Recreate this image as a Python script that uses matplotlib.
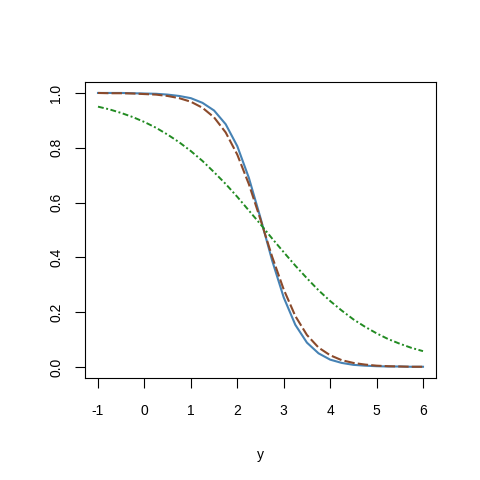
import numpy as np
import matplotlib.pyplot as plt

plt.rcParams['font.family'] = ['Liberation Sans', 'DejaVu Sans']

x = [-1, -0.75, -0.5, -0.25, 0, 0.25, 0.5, 0.75, 1, 1.25, 1.5, 1.75, 2, 2.25, 2.5,
     2.75, 3, 3.25, 3.5, 3.75, 4, 4.25, 4.5, 4.75, 5, 5.25, 5.5, 5.75, 6]

blue = [1.000, 1.000, 1.000, 0.999, 0.998, 0.997, 0.994, 0.989, 0.981, 0.964,
        0.936, 0.886, 0.806, 0.690, 0.544, 0.389, 0.254, 0.154, 0.089, 0.050,
        0.027, 0.015, 0.008, 0.005, 0.003, 0.002, 0.002, 0.001, 0.001]

brown = [1.000, 0.999, 0.999, 0.998, 0.996, 0.994, 0.989, 0.981, 0.968, 0.946,
         0.911, 0.856, 0.775, 0.667, 0.538, 0.403, 0.283, 0.186, 0.117, 0.071,
         0.043, 0.025, 0.015, 0.009, 0.005, 0.003, 0.002, 0.001, 0.001]

green = [0.950, 0.940, 0.927, 0.912, 0.894, 0.873, 0.848, 0.820, 0.788, 0.752,
         0.711, 0.668, 0.621, 0.571, 0.521, 0.469, 0.419, 0.370, 0.324, 0.280,
         0.241, 0.206, 0.174, 0.147, 0.123, 0.102, 0.085, 0.070, 0.058]

xticks = [-1, 0, 1, 2, 3, 4, 5, 6]
yticks = [0.0, 0.2, 0.4, 0.6, 0.8, 1.0]

fig = plt.figure(figsize=(4.8, 4.8), dpi=100)
ax = fig.add_axes([85 / 480, 102 / 480, 351 / 480, 296 / 480])

ax.plot(x, blue, color="#4682B4", lw=1.5)
ax.plot(x, brown, color="#8B4A2B", lw=1.5, dashes=(5, 1.5))
ax.plot(x, green, color="#228B22", lw=1.4, dashes=(3, 1.3, 1, 1.3))

ax.set_xlim(-1 - 0.28, 6 + 0.28)
ax.set_ylim(-0.04, 1.04)
ax.set_xticks(xticks)
ax.set_xticklabels([str(v) for v in xticks])
ax.set_yticks(yticks)
ax.set_yticklabels(["%.1f" % v for v in yticks], rotation=90, va="center")
ax.tick_params(direction="out", length=7.5, width=0.8, labelsize=10, pad=11)
ax.tick_params(axis="y", pad=8)
for s in ax.spines.values():
    s.set_linewidth(0.8)

ax.set_xlabel("y", fontsize=10, labelpad=22)

plt.savefig("out.png", dpi=100)
